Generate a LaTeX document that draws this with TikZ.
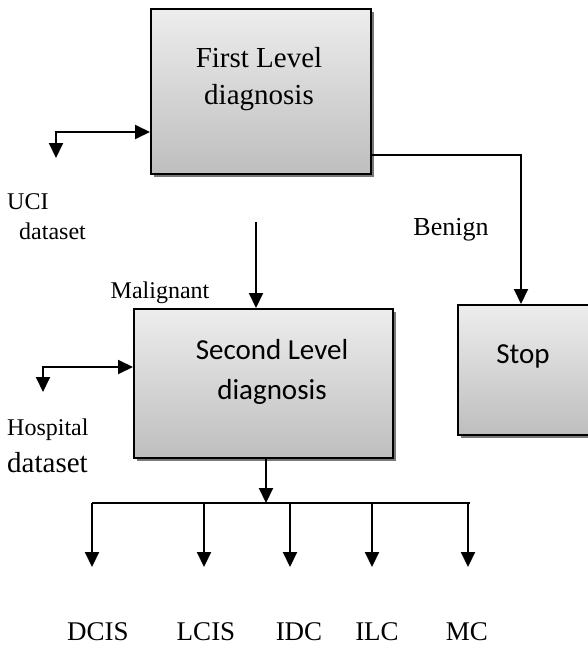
\documentclass[tikz,border=0pt]{standalone}
\usepackage{fontspec}
\setmainfont{Liberation Serif}
\newfontfamily\boxfont{Carlito}
\usetikzlibrary{arrows.meta,shadows}
\definecolor{boxtop}{RGB}{237,237,237}
\definecolor{boxbottom}{RGB}{190,190,190}
\definecolor{boxshadow}{RGB}{120,120,120}

\begin{document}
\begin{tikzpicture}[x=1pt,y=-1pt,>={Triangle[width=14pt,length=15pt]},
 flow/.style={line width=2pt},
 diagbox/.style={draw,line width=2pt,top color=boxtop,bottom color=boxbottom,
  drop shadow={shadow xshift=3pt,shadow yshift=-3pt,fill=boxshadow,opacity=1},
  inner sep=0pt,anchor=north west},
 lbl/.style={inner sep=0pt,font=\rmfamily\fontsize{#1}{#1}\selectfont}]
 \useasboundingbox (0,0) rectangle (588,648);
 % boxes
 \node[diagbox,minimum width=220pt,minimum height=165pt] (first) at (150,8) {};
 \node[diagbox,minimum width=259pt,minimum height=149pt] (second) at (133,308) {};
 \node[diagbox,minimum width=140pt,minimum height=130pt] (stop) at (457,304) {};
 \node[inner sep=0pt,align=center,font=\rmfamily\fontsize{29}{37}\selectfont] (firsttxt)
  at (259,79) {First Level\\diagnosis};
 \node[inner sep=0pt,align=center,font=\boxfont\fontsize{29}{40}\selectfont] (secondtxt)
  at (272,372) {Second Level\\diagnosis};
 \node[inner sep=0pt,font=\boxfont\fontsize{29}{29}\selectfont] (stoptxt)
  at (523,356) {Stop};
 % side labels
 \node[lbl=24,anchor=west] (uci) at (7,202) {UCI};
 \node[lbl=24,anchor=west] (ucidata) at (19,231) {dataset};
 \node[lbl=24] (malignant) at (160,293) {Malignant};
 \node[lbl=26] (benign) at (451,230) {Benign};
 \node[lbl=24,anchor=west] (hosp) at (7,430) {Hospital};
 \node[lbl=29,anchor=west] (hospdata) at (7,463) {dataset};
 % dataset inputs
 \coordinate (ucitip) at (56,158);
 \coordinate (ucibend) at (56,132);
 \draw[flow,<->] (ucitip) -- (ucibend) -- (ucibend -| first.west);
 \coordinate (hosptip) at (43,392);
 \coordinate (hospbend) at (43,367);
 \draw[flow,<->] (hosptip) -- (hospbend) -- (hospbend -| second.west);
 % first -> second, first -> stop
 \coordinate (malstart) at (256,222);
 \draw[flow,->] (malstart) -- (malstart |- second.north);
 \coordinate (benignbend) at (521,155);
 \draw[flow,->] (benignbend -| first.east) -- (benignbend) -- (benignbend |- stop.north);
 % classes
 \coordinate (split) at (266,503);
 \draw[flow,->] (split |- second.south) -- (split);
 \foreach \n/\x/\t/\lx in {dcis/92/DCIS/98,lcis/204/LCIS/206,idc/290/IDC/299,
   ilc/372/ILC/377,mc/468/MC/467}{
  \coordinate (tip-\n) at (\x,567);
  \node[lbl=27] (\n) at (\lx,632) {\t};
  \draw[flow,->] (tip-\n |- split) -- (tip-\n);
 }
 \draw[flow] (tip-dcis |- split) -- ([xshift=2pt]tip-mc |- split);
\end{tikzpicture}
\end{document}
